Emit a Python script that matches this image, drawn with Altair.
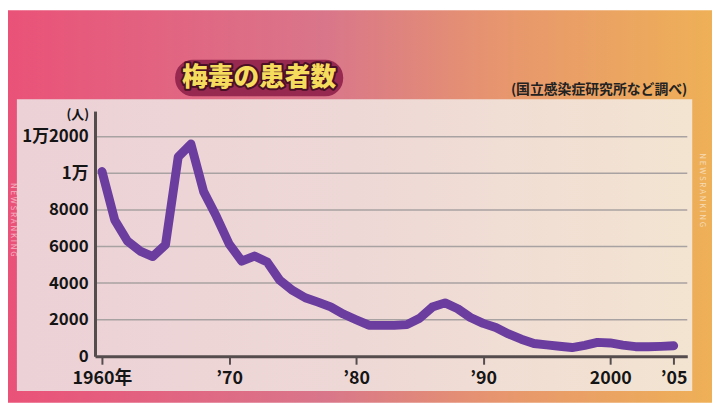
import altair as alt
import pandas as pd

# ---- data ----
years = list(range(1960, 2006))
patients = [10100, 7450, 6300, 5750, 5450, 6100, 10900, 11600, 9000, 7650,
            6150, 5200, 5480, 5150, 4150, 3600, 3200, 2960, 2700, 2310,
            2000, 1700, 1690, 1690, 1730, 2080, 2690, 2920, 2600, 2120,
            1800, 1570, 1220, 935, 700, 620, 550, 480, 600, 760,
            730, 615, 525, 525, 545, 580]

x_tick_values = [1960, 1970, 1980, 1990, 2000, 2005]
x_tick_labels = ["1960年", "’70", "’80", "’90", "2000", "’05"]
y_tick_values = [0, 2000, 4000, 6000, 8000, 10000, 12000]
y_tick_labels = ["0", "2000", "4000", "6000", "8000", "1万", "1万2000"]

title_text = "梅毒の患者数"
source_text = "(国立感染症研究所など調べ)"
unit_text = "(人)"
side_text = "N E W S   R A N K I N G"

# ---- layout ----
W, H = 599, 248
PAD_L, PAD_T, PAD_R, PAD_B = 88, 102, 25, 47
TOTAL_W = W + PAD_L + PAD_R
TOTAL_H = H + PAD_T + PAD_B
FONT = "Noto Sans CJK JP"
AXIS_COLOR = "#554c4e"


def label_expr(vals, labs):
    expr = "''"
    for v, l in reversed(list(zip(vals, labs))):
        expr = f"datum.value == {v} ? '{l}' : ({expr})"
    return expr


df = pd.DataFrame({"year": years, "patients": patients})
grid_df = pd.DataFrame({"patients": [v for v in y_tick_values if v > 0]})
one = pd.DataFrame({"k": [0]})

x_scale = alt.Scale(domain=[1959.45, 2006.07], nice=False, zero=False)
y_scale = alt.Scale(domain=[0, 13400], nice=False)

x_axis = alt.Axis(
    values=x_tick_values, labelExpr=label_expr(x_tick_values, x_tick_labels),
    title=None, grid=False, tickSize=8, tickWidth=2, tickColor=AXIS_COLOR,
    domain=True, domainColor=AXIS_COLOR, domainWidth=3, domainOpacity=1,
    labelFont=FONT, labelFontSize=18, labelFontWeight="bold",
    labelColor="#151515", labelPadding=6, zindex=1, labelOverlap=False)
y_axis = alt.Axis(
    values=y_tick_values, labelExpr=label_expr(y_tick_values, y_tick_labels),
    title=None, grid=False, ticks=False,
    domain=True, domainColor=AXIS_COLOR, domainWidth=3, domainOpacity=1,
    labelFont=FONT, labelFontSize=17, labelFontWeight="bold",
    labelColor="#151515", labelPadding=7, zindex=1, labelOverlap=False)

bg = alt.Chart(one).mark_rect(
    color=alt.LinearGradient(
        gradient="linear",
        stops=[alt.GradientStop(color="#ea5278", offset=0),
               alt.GradientStop(color="#d9768a", offset=0.45),
               alt.GradientStop(color="#e8986c", offset=0.72),
               alt.GradientStop(color="#eeb057", offset=1)],
        x1=0, x2=1, y1=0, y2=0)
).encode(x=alt.value(-PAD_L), x2=alt.value(TOTAL_W - PAD_L),
         y=alt.value(-PAD_T), y2=alt.value(TOTAL_H - PAD_T))

side_df = pd.DataFrame({"t": [side_text]})
side_left = alt.Chart(side_df).mark_text(
    font=FONT, fontSize=8, color="#ffffff", opacity=0.55, angle=90,
    align="center", baseline="middle"
).encode(text="t:N", x=alt.value(-83), y=alt.value(110))
side_right = alt.Chart(side_df).mark_text(
    font=FONT, fontSize=8, color="#ffffff", opacity=0.55, angle=90,
    align="center", baseline="middle"
).encode(text="t:N", x=alt.value(614), y=alt.value(80))

panel = alt.Chart(one).mark_rect(
    color=alt.LinearGradient(
        gradient="linear",
        stops=[alt.GradientStop(color="#ecd1d6", offset=0),
               alt.GradientStop(color="#eed8d6", offset=0.5),
               alt.GradientStop(color="#f3e4d1", offset=1)],
        x1=0, x2=1, y1=0, y2=0)
).encode(x=alt.value(-79), x2=alt.value(604), y=alt.value(-12), y2=alt.value(283))

grid = alt.Chart(grid_df).mark_rule(color="#a9a2a2", strokeWidth=1.5).encode(
    y=alt.Y("patients:Q", scale=y_scale, axis=y_axis),
    x=alt.value(0), x2=alt.value(W))

line = alt.Chart(df).mark_line(
    color="#6a3d9f", strokeWidth=9, strokeCap="round", strokeJoin="round"
).encode(
    x=alt.X("year:Q", scale=x_scale, axis=x_axis),
    y=alt.Y("patients:Q", scale=y_scale, axis=y_axis),
)

pill = alt.Chart(one).mark_rect(color="#97284f", cornerRadius=18).encode(
    x=alt.value(81), x2=alt.value(251), y=alt.value(-52), y2=alt.value(-15))

title_df = pd.DataFrame({"t": [title_text]})
title_outline = alt.Chart(title_df).mark_text(
    font=FONT, fontSize=26, fontWeight=900, color="#4a1026",
    stroke="#4a1026", strokeWidth=4, strokeJoin="round",
    align="center", baseline="middle"
).encode(text="t:N", x=alt.value(166), y=alt.value(-33))
title_fill = alt.Chart(title_df).mark_text(
    font=FONT, fontSize=26, fontWeight=900, color="#f6dc5c",
    align="center", baseline="middle"
).encode(text="t:N", x=alt.value(166), y=alt.value(-33))

source = alt.Chart(pd.DataFrame({"t": [source_text]})).mark_text(
    font=FONT, fontSize=14, fontWeight="bold", color="#222222",
    align="right", baseline="middle"
).encode(text="t:N", x=alt.value(599), y=alt.value(-21))

unit = alt.Chart(pd.DataFrame({"t": [unit_text]})).mark_text(
    font=FONT, fontSize=13, fontWeight="bold", color="#151515",
    align="right", baseline="middle"
).encode(text="t:N", x=alt.value(-6), y=alt.value(4))

chart = alt.layer(
    bg, side_left, side_right, panel, grid, line, pill,
    title_outline, title_fill, source, unit
).properties(
    width=W, height=H,
    autosize=alt.AutoSizeParams(type="none"),
    padding={"left": PAD_L, "top": PAD_T, "right": PAD_R, "bottom": PAD_B},
).configure_view(stroke=None)

chart.save("out.html", embed_options={"renderer": "svg", "actions": False})
